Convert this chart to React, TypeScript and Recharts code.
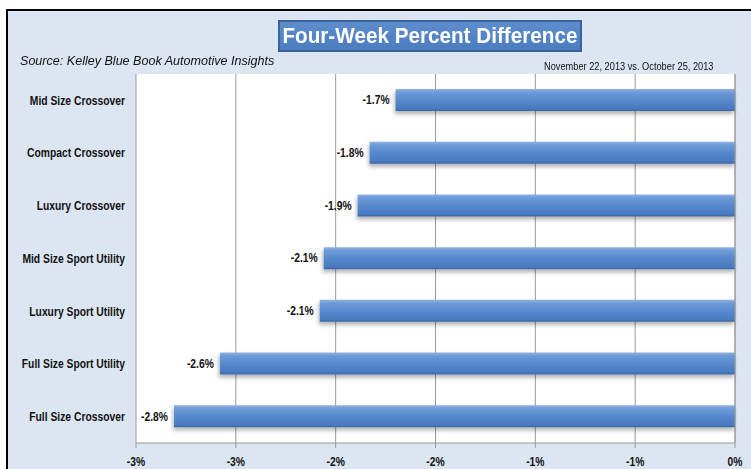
import React from "react"
import {
  BarChart, Bar, XAxis, YAxis, CartesianGrid, LabelList,
} from "recharts"

const categories = [
  "Mid Size Crossover",
  "Compact Crossover",
  "Luxury Crossover",
  "Mid Size Sport Utility",
  "Luxury Sport Utility",
  "Full Size Sport Utility",
  "Full Size Crossover",
]
const pctDiff = [-1.70, -1.83, -1.89, -2.06, -2.08, -2.58, -2.81]
const xTicks = [-3, -2.5, -2, -1.5, -1, -0.5, 0]
const xTickLabels = ["-3%", "-3%", "-2%", "-2%", "-1%", "-1%", "0%"]
const edgeTicks = [0, 1, 2, 3, 4, 5, 6, 7]

const chartData = categories.map((name, i) => ({ name, value: pctDiff[i] }))

const FONT = "'Liberation Sans', Arial, sans-serif"
const GRID = "#9a9a9a"
// no narrow font installed, so squeeze text horizontally
const SQUEEZE = 0.86

function NarrowText({ x, y, anchor, children, size = 12, baseline = "central" }: any) {
  return (
    <g transform={`translate(${x},${y}) scale(${SQUEEZE},1)`}>
      <text
        x={0}
        y={0}
        textAnchor={anchor}
        dominantBaseline={baseline}
        fontFamily={FONT}
        fontWeight="bold"
        fontSize={size}
        fill="#111"
      >
        {children}
      </text>
    </g>
  )
}

function CategoryTick(props: any) {
  const { x, y, payload } = props
  return <NarrowText x={x} y={y} anchor="end">{payload.value}</NarrowText>
}

function PercentTick(props: any) {
  const { x, y, payload } = props
  const label = xTickLabels[xTicks.indexOf(payload.value)] ?? ""
  return <NarrowText x={x} y={y + 5} anchor="middle">{label}</NarrowText>
}

function BarValueLabel(props: any) {
  const vb = props.viewBox || {}
  const x = props.x ?? vb.x
  const y = props.y ?? vb.y
  const w = props.width ?? vb.width ?? 0
  const h = props.height ?? vb.height ?? 0
  const left = Math.min(x, x + w)
  return (
    <NarrowText x={left - 6} y={y + h / 2} anchor="end">
      {Number(props.value).toFixed(1) + "%"}
    </NarrowText>
  )
}

export default function App() {
  return (
    <div style={{ position: "absolute", left: 0, top: 0, width: 751, height: 469, overflow: "hidden", background: "#fff" }}>
      <div style={{
        position: "absolute", left: 6, top: 9, width: 760, height: 470,
        background: "#DCE6F2", borderTop: "2px solid #000", borderLeft: "2px solid #000",
      }} />

      <div style={{
        position: "absolute", left: 278, top: 20, width: 304, height: 32, boxSizing: "border-box",
        background: "linear-gradient(#5d8dcd, #4a7cbf)", border: "2px solid #3a639e",
        display: "flex", alignItems: "center", justifyContent: "center",
      }}>
        <span style={{
          color: "#fff", fontFamily: FONT, fontWeight: "bold",
          fontSize: 22, whiteSpace: "nowrap", transform: "scaleX(0.94)", lineHeight: "28px",
        }}>
          Four-Week Percent Difference
        </span>
      </div>

      <div style={{
        position: "absolute", left: 20, top: 53, fontFamily: FONT,
        fontStyle: "italic", fontSize: 13, color: "#111", whiteSpace: "nowrap",
        transform: "scaleX(0.966)", transformOrigin: "left top",
      }}>
        Source: Kelley Blue Book Automotive Insights
      </div>

      <div style={{
        position: "absolute", left: 544, top: 60, fontFamily: FONT,
        fontSize: 11, color: "#111", whiteSpace: "nowrap",
        transform: "scaleX(0.84)", transformOrigin: "left top",
      }}>
        November 22, 2013 vs. October 25, 2013
      </div>

      <div style={{ position: "absolute", left: 0, top: 0 }}>
        <BarChart
          width={751}
          height={469}
          data={chartData}
          layout="vertical"
          margin={{ top: 74, right: 0, bottom: 0, left: 0 }}
        >
          <defs>
            <linearGradient id="barFill" x1="0" y1="0" x2="0" y2="1">
              <stop offset="0%" stopColor="#8fb4e3" />
              <stop offset="14%" stopColor="#6f9cd8" />
              <stop offset="50%" stopColor="#5789cd" />
              <stop offset="88%" stopColor="#4a7bc0" />
              <stop offset="100%" stopColor="#3b67a3" />
            </linearGradient>
            <filter id="barShadow" x="-5%" y="-30%" width="110%" height="180%">
              <feDropShadow dx="-1" dy="3" stdDeviation="2" floodColor="#000" floodOpacity="0.3" />
            </filter>
          </defs>
          <CartesianGrid horizontal={false} stroke={GRID} fill="#fff" />
          <XAxis
            type="number"
            domain={[-3, 0]}
            ticks={xTicks}
            interval={0}
            axisLine={{ stroke: GRID }}
            tickLine={{ stroke: GRID }}
            tickSize={5}
            tickMargin={9}
            height={26}
            tick={<PercentTick />}
          />
          <YAxis
            yAxisId="cat"
            type="category"
            dataKey="name"
            width={136}
            axisLine={false}
            tickLine={false}
            tickMargin={5}
            interval={0}
            tick={<CategoryTick />}
          />
          <YAxis
            yAxisId="edge"
            type="number"
            orientation="right"
            domain={[0, 7]}
            ticks={edgeTicks}
            interval={0}
            width={16}
            tick={false}
            tickSize={4}
            axisLine={{ stroke: GRID }}
            tickLine={{ stroke: GRID }}
          />
          <Bar
            yAxisId="cat"
            dataKey="value"
            barSize={22}
            fill="url(#barFill)"
            filter="url(#barShadow)"
            isAnimationActive={false}
          >
            <LabelList dataKey="value" content={BarValueLabel} />
          </Bar>
        </BarChart>
      </div>
    </div>
  )
}
